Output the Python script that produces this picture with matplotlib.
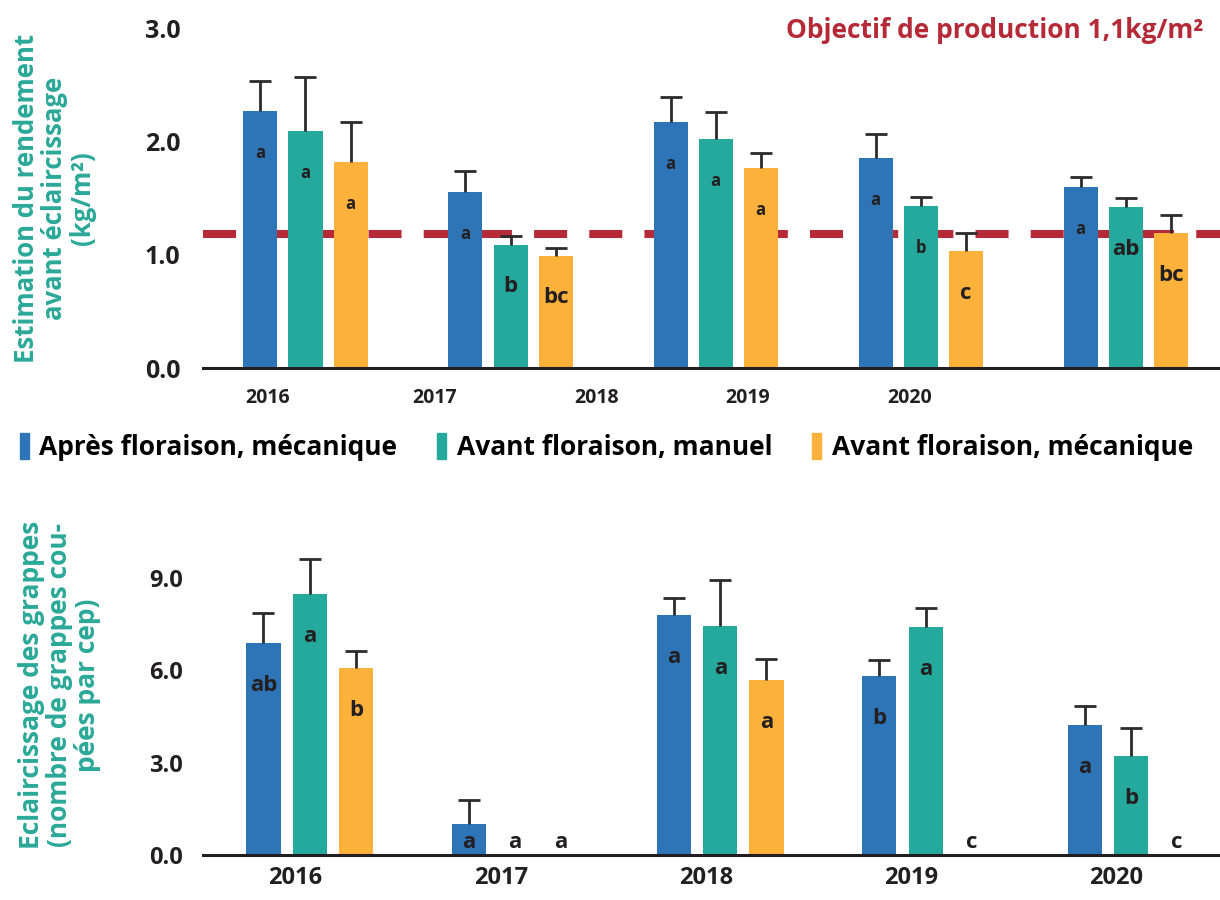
import numpy as np
import matplotlib
matplotlib.use('Agg')
import matplotlib.pyplot as plt
from matplotlib.patches import Patch

plt.rcParams['font.family'] = ['Open Sans', 'DejaVu Sans']

# --- data ---------------------------------------------------------------
series = ['Après floraison, mécanique', 'Avant floraison, manuel',
          'Avant floraison, mécanique']
colors = ['#2e75b8', '#24a99c', '#fbb13a']

top_years = ['2016', '2017', '2018', '2019', '2020']
top_tick_pos = [-0.185, 0.63, 1.42, 2.155, 2.945]
top_vals = [[2.27, 1.55, 2.17, 1.85, 1.60],
            [2.09, 1.09, 2.02, 1.43, 1.42],
            [1.82, 0.99, 1.77, 1.03, 1.19]]
top_err = [[0.26, 0.19, 0.22, 0.22, 0.09],
           [0.48, 0.08, 0.24, 0.08, 0.08],
           [0.35, 0.07, 0.13, 0.16, 0.16]]
top_letters = [['a', 'a', 'a', 'a', 'a'],
               ['a', 'b', 'a', 'b', 'ab'],
               ['a', 'bc', 'a', 'c', 'bc']]
top_big = [[0, 0, 0, 0, 0],
           [0, 1, 0, 0, 1],
           [0, 1, 0, 1, 1]]
objectif = 1.18

bot_years = ['2016', '2017', '2018', '2019', '2020']
bot_vals = [[6.88, 1.01, 7.79, 5.81, 4.22],
            [8.47, 0.0, 7.44, 7.40, 3.21],
            [6.07, 0.0, 5.68, 0.0, 0.0]]
bot_err = [[0.98, 0.78, 0.55, 0.52, 0.62],
           [1.14, 0.0, 1.49, 0.62, 0.91],
           [0.55, 0.0, 0.68, 0.0, 0.0]]
bot_letters = [['ab', 'a', 'a', 'b', 'a'],
               ['a', 'a', 'a', 'a', 'b'],
               ['b', 'a', 'a', 'c', 'c']]

dark = '#231f20'
teal_txt = '#2aa898'
red = '#b52a36'

fig = plt.figure(figsize=(12.2, 9), dpi=100)


def draw_bars(ax, vals, errs, letters, big, pitch, width, low_cut):
    x = np.arange(len(vals[0]))
    for k in range(3):
        xs = x + (k - 1) * pitch
        v = np.array(vals[k])
        e = np.array(errs[k])
        ax.bar(xs, v, width, color=colors[k], zorder=2)
        m = e > 0
        eb = ax.errorbar(xs[m], v[m], yerr=[np.zeros(m.sum()), e[m]],
                         fmt='none', ecolor='#2b2b2b', elinewidth=2,
                         capsize=8, capthick=2, zorder=3)
        eb[1][0].set_visible(False)   # no cap at the bar top
        for i, lab in enumerate(letters[k]):
            size = 16 if big[k][i] else 12
            if v[i] < low_cut:
                xy, off = (xs[i], 0), (0, 13)
            else:
                xy, off = (xs[i], v[i]), (0, -42)
            ax.annotate(lab, xy, xytext=off, textcoords='offset pixels',
                        ha='center', va='center', fontsize=size,
                        fontweight='bold', color=dark, zorder=4)


def style(ax):
    for s in ['top', 'right', 'left']:
        ax.spines[s].set_visible(False)
    ax.spines['bottom'].set_linewidth(2.2)
    ax.spines['bottom'].set_color(dark)
    ax.tick_params(axis='y', length=0, pad=13, labelcolor=dark)
    ax.tick_params(axis='x', length=0, labelcolor=dark)


# --- top chart -------------------------------------------------------------
ax1 = fig.add_axes([0.166, 0.591, 0.834, 0.384])
ax1.axhline(objectif, color=red, lw=5.8, dashes=(4.1, 2.75), zorder=1)
draw_bars(ax1, top_vals, top_err, top_letters, top_big, 0.22, 0.166, -1)
ax1.set_ylim(0, 3.05)
ax1.set_xlim(-0.502, 4.459)
ax1.set_yticks([0, 1, 2, 3])
ax1.set_yticklabels(['0.0', '1.0', '2.0', '3.0'], fontsize=18,
                    fontweight='bold')
ax1.set_xticks(top_tick_pos)
ax1.set_xticklabels(top_years, fontsize=14, fontweight='bold')
ax1.tick_params(axis='x', pad=14)
style(ax1)
ax1.tick_params(axis='y', pad=16)
ax1.text(1203 / 1220, 1 - 30 / 900, 'Objectif de production 1,1kg/m²',
         transform=fig.transFigure, ha='right', va='center', fontsize=19,
         fontweight='bold', color=red)
fig.text(0.045, 1 - 198 / 900,
         'Estimation du rendement\navant éclaircissage\n(kg/m²)',
         rotation=90, ha='center', va='center', fontsize=18.5,
         fontweight='bold', color=teal_txt, linespacing=1.05)

# --- legend ----------------------------------------------------------------
handles = [Patch(color=c) for c in colors]
fig.legend(handles, series, loc='center', bbox_to_anchor=(0.497, 1 - 447 / 900),
           ncol=3, frameon=False, handlelength=0.35, handleheight=1.1,
           handletextpad=0.4, columnspacing=1.5,
           prop={'size': 19, 'weight': 'bold'})

# --- bottom chart ----------------------------------------------------------
ax2 = fig.add_axes([0.166, 0.05, 0.834, 0.359])
bot_big = [[1] * 5 for _ in range(3)]
draw_bars(ax2, bot_vals, bot_err, bot_letters, bot_big, 0.225, 0.166, 1.8)
ax2.set_ylim(0, 10.5)
ax2.set_xlim(-0.522, 4.434)
ax2.set_yticks([0, 3, 6, 9])
ax2.set_yticklabels(['0.0', '3.0', '6.0', '9.0'], fontsize=17,
                    fontweight='bold')
ax2.set_xticks(np.arange(5) - 0.07)
ax2.set_xticklabels(bot_years, fontsize=17, fontweight='bold')
ax2.tick_params(axis='x', pad=8)
style(ax2)
ax2.tick_params(axis='y', pad=14)
fig.text(0.049, 1 - 685 / 900,
         'Eclaircissage des grappes\n(nombre de grappes cou-\npées par cep)',
         rotation=90, ha='center', va='center', fontsize=19,
         fontweight='bold', color=teal_txt, linespacing=1.05)

fig.savefig('out.png', dpi=100)
